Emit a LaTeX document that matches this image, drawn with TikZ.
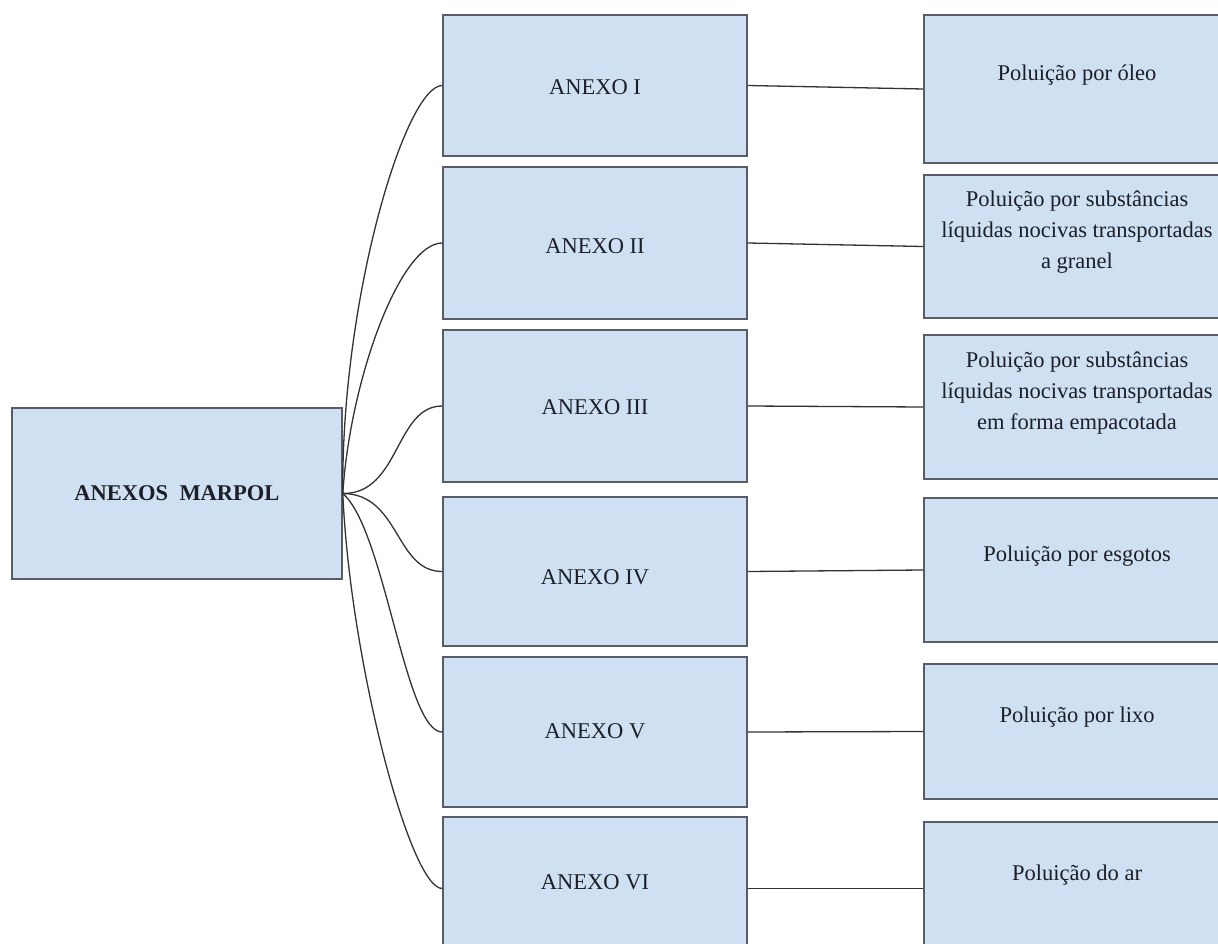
\documentclass[tikz,border=0pt]{standalone}
\usepackage{fontspec}
\setmainfont{Liberation Serif}
\definecolor{boxfill}{RGB}{207,224,242}
\definecolor{boxline}{RGB}{88,92,102}
\definecolor{txt}{RGB}{28,30,40}
\definecolor{lineclr}{RGB}{50,50,55}
\begin{document}
\begin{tikzpicture}[x=1pt,y=-1pt,
  box/.style={draw=boxline, fill=boxfill, line width=1.6pt, inner sep=0pt},
  lbl/.style={font=\fontsize{22.5}{31}\selectfont, text=txt, align=center, inner sep=0pt},
  conn/.style={draw=lineclr, line width=1.3pt}]
\useasboundingbox (0,0) rectangle (1218,944);
\fill[white] (0,0) rectangle (1218,944);

% left box
\node[box, lbl, minimum width=330pt, minimum height=171pt, font=\fontsize{22.5}{31}\selectfont\bfseries] (L) at (177,493.5) {ANEXOS\ \ MARPOL};

% middle boxes
\node[box, minimum width=304pt, minimum height=141pt] (m1) at (595,85.5) {};
\node[box, minimum width=304pt, minimum height=152pt] (m2) at (595,243) {};
\node[box, minimum width=304pt, minimum height=152pt] (m3) at (595,406) {};
\node[box, minimum width=304pt, minimum height=149pt] (m4) at (595,571.5) {};
\node[box, minimum width=304pt, minimum height=150pt] (m5) at (595,732) {};
\node[box, minimum width=304pt, minimum height=143pt] (m6) at (595,888.5) {};

\node[lbl] (a1) at (595,87) {ANEXO I};
\node[lbl] (a2) at (595,246) {ANEXO II};
\node[lbl] (a3) at (595,407) {ANEXO III};
\node[lbl] (a4) at (595,577) {ANEXO IV};
\node[lbl] (a5) at (595,731) {ANEXO V};
\node[lbl] (a6) at (595,882) {ANEXO VI};

% right boxes
\node[box, minimum width=306pt, minimum height=148pt] (r1) at (1077,89) {};
\node[box, minimum width=306pt, minimum height=143pt] (r2) at (1077,246.5) {};
\node[box, minimum width=306pt, minimum height=144pt] (r3) at (1077,407) {};
\node[box, minimum width=306pt, minimum height=144pt] (r4) at (1077,570) {};
\node[box, minimum width=306pt, minimum height=135pt] (r5) at (1077,731.5) {};
\node[box, minimum width=306pt, minimum height=143pt] (r6) at (1077,893.5) {};

\node[lbl] (t1) at ([yshift=14pt]r1.center) {Poluição por óleo};
\node[lbl] (t2) at ([yshift=14pt]r2.center) {Poluição por substâncias\\líquidas nocivas transportadas\\a granel};
\node[lbl] (t3) at ([yshift=14pt]r3.center) {Poluição por substâncias\\líquidas nocivas transportadas\\em forma empacotada};
\node[lbl] (t4) at ([yshift=14pt]r4.center) {Poluição por esgotos};
\node[lbl] (t5) at ([yshift=14pt]r5.center) {Poluição por lixo};
\node[lbl] (t6) at ([yshift=18pt]r6.center) {Poluição do ar};

% junction
\coordinate (J) at (L.east);

% curved connectors
\draw[conn] (J) .. controls (341,300) and (405,86) .. (m1.west);
\draw[conn] (J) .. controls (350,380) and (400,243) .. (m2.west);
\draw[conn] (J) .. controls (400,494) and (395,406) .. (m3.west);
\draw[conn] (J) .. controls (400,494) and (395,571.5) .. (m4.west);
\draw[conn] (J) .. controls (385,530) and (405,732) .. (m5.west);
\draw[conn] (J) .. controls (350,660) and (410,888.5) .. (m6.west);

% straight connectors
\draw[conn] (m1.east) -- (r1.west);
\draw[conn] (m2.east) -- (r2.west);
\draw[conn] (m3.east) -- (r3.west);
\draw[conn] (m4.east) -- (r4.west);
\draw[conn] (m5.east) -- (r5.west);
\draw[conn] (m6.east) -- (m6.east -| r6.west);
\end{tikzpicture}
\end{document}
